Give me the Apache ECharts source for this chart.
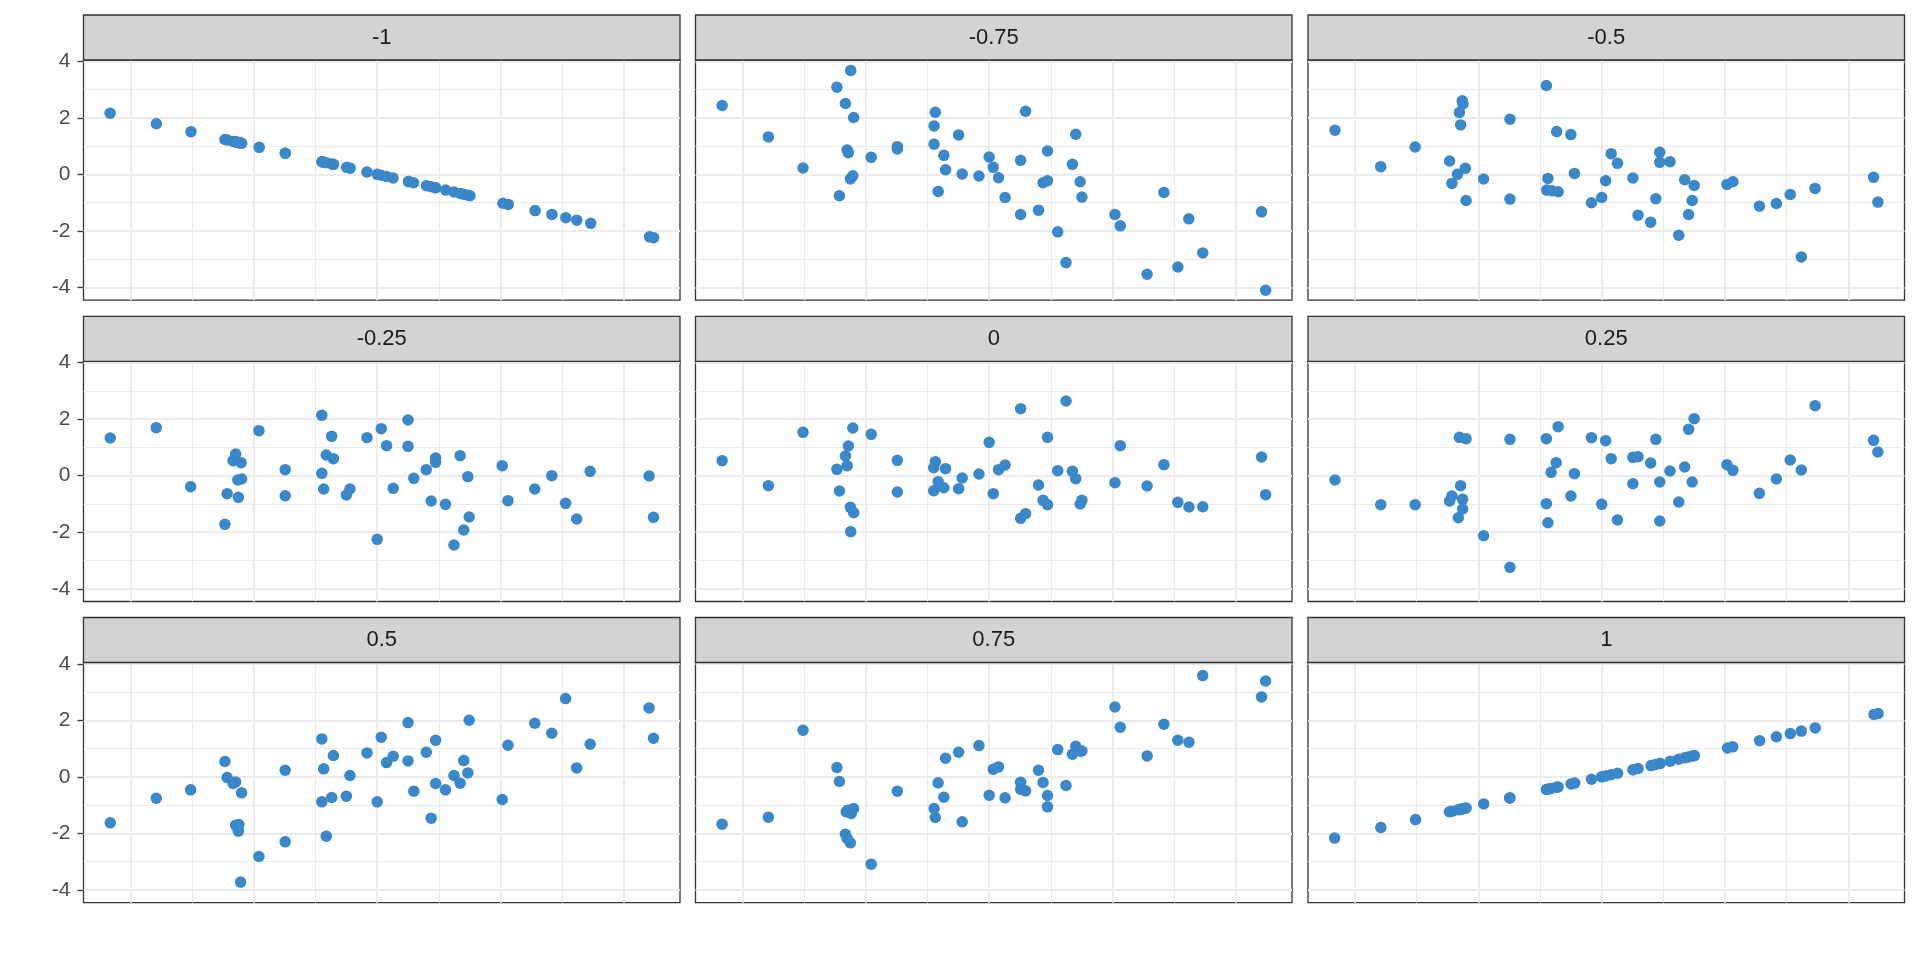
<!DOCTYPE html>
<html><head><meta charset="utf-8">
<script src="https://cdn.jsdelivr.net/npm/echarts@6/dist/echarts.min.js"></script>
<style>html,body{margin:0;padding:0;background:#fff}#c{width:1920px;height:960px}</style>
</head><body><div id="c"></div>
<script>
const panelLabels = ['-1', '-0.75', '-0.5', '-0.25', '0', '0.25', '0.5', '0.75', '1'];
const yTickValues = [-4, -2, 0, 2, 4];
const yMinorValues = [-3, -1, 1, 3];
const xTickValues = [-2, -1, 0, 1, 2];
const xMinorValues = [-1.5, -0.5, 0.5, 1.5];

const pNeg100 = [[-2.166,2.166],[-1.791,1.791],[-1.51,1.51],[-1.235,1.235],[-1.215,1.215],[-1.166,1.166],[-1.152,1.152],[-1.142,1.142],[-1.126,1.126],[-1.106,1.106],[-1.123,1.123],[-1.099,1.099],[-0.957,0.957],[-0.745,0.745],[-0.745,0.745],[-0.447,0.447],[-0.447,0.447],[-0.437,0.437],[-0.414,0.414],[-0.368,0.368],[-0.354,0.354],[-0.248,0.248],[-0.219,0.219],[-0.083,0.083],[0,0],[0.033,-0.033],[0.076,-0.076],[0.129,-0.129],[0.255,-0.255],[0.255,-0.255],[0.295,-0.295],[0.4,-0.4],[0.437,-0.437],[0.473,-0.473],[0.473,-0.473],[0.556,-0.556],[0.623,-0.623],[0.675,-0.675],[0.702,-0.702],[0.738,-0.738],[0.752,-0.752],[1.02,-1.02],[1.063,-1.063],[1.281,-1.281],[1.417,-1.417],[1.53,-1.53],[1.619,-1.619],[1.732,-1.732],[2.209,-2.209],[2.242,-2.242]];
const pNeg075 = [[-2.166,2.435],[-1.791,1.324],[-1.51,0.225],[-1.235,3.085],[-1.215,-0.757],[-1.166,2.506],[-1.152,0.863],[-1.142,0.768],[-1.126,-0.165],[-1.106,-0.047],[-1.123,3.676],[-1.099,2.01],[-0.957,0.603],[-0.745,0.98],[-0.745,0.9],[-0.447,1.064],[-0.447,1.714],[-0.437,2.199],[-0.414,-0.603],[-0.368,0.674],[-0.354,0.165],[-0.248,1.395],[-0.219,0.012],[-0.083,-0.059],[0,0.615],[0.033,0.248],[0.076,-0.118],[0.129,-0.816],[0.255,0.496],[0.255,-1.418],[0.295,2.234],[0.4,-1.265],[0.437,-0.296],[0.473,-0.225],[0.473,0.827],[0.556,-2.033],[0.623,-3.12],[0.675,0.355],[0.702,1.418],[0.738,-0.26],[0.752,-0.804],[1.02,-1.418],[1.063,-1.82],[1.281,-3.534],[1.417,-0.638],[1.53,-3.274],[1.619,-1.572],[1.732,-2.778],[2.209,-1.324],[2.242,-4.1]];
const pNeg050 = [[-2.163,1.56],[-1.792,0.272],[-1.513,0.969],[-1.234,0.473],[-1.215,-0.319],[-1.17,0.0],[-1.106,0.213],[-1.154,2.187],[-1.131,2.6],[-1.125,2.49],[-1.144,1.749],[-1.1,-0.922],[-0.958,-0.165],[-0.744,1.95],[-0.744,-0.875],[-0.449,3.144],[-0.436,-0.142],[-0.446,-0.556],[-0.404,-0.579],[-0.353,-0.615],[-0.365,1.513],[-0.25,1.407],[-0.221,0.035],[-0.083,-1.005],[0,-0.816],[0.032,-0.225],[0.077,0.733],[0.128,0.39],[0.253,-0.13],[0.295,-1.442],[0.397,-1.69],[0.439,-0.863],[0.471,0.78],[0.471,0.426],[0.554,0.449],[0.625,-2.151],[0.673,-0.189],[0.705,-1.418],[0.734,-0.922],[0.75,-0.39],[1.016,-0.355],[1.064,-0.26],[1.279,-1.123],[1.417,-1.028],[1.529,-0.709],[1.619,-2.92],[1.731,-0.496],[2.205,-0.106],[2.24,-0.981]];
const pNeg025 = [[-2.165,1.333],[-1.792,1.698],[-1.513,-0.389],[-1.235,-1.722],[-1.217,-0.637],[-1.169,0.531],[-1.148,0.767],[-1.104,0.46],[-1.126,-0.767],[-1.13,-0.153],[-1.1,-0.118],[-0.959,1.592],[-0.746,0.212],[-0.746,-0.708],[-0.449,2.134],[-0.449,0.083],[-0.434,-0.472],[-0.413,0.731],[-0.369,1.392],[-0.355,0.601],[-0.25,-0.684],[-0.221,-0.472],[-0.083,1.344],[0,-2.252],[0.033,1.663],[0.076,1.061],[0.13,-0.448],[0.25,1.969],[0.25,1.038],[0.297,-0.094],[0.398,0.212],[0.438,-0.896],[0.474,0.625],[0.474,0.472],[0.554,-1.014],[0.623,-2.453],[0.673,0.708],[0.702,-1.922],[0.735,-0.035],[0.746,-1.462],[1.014,0.354],[1.061,-0.884],[1.278,-0.472],[1.416,0.0],[1.528,-0.979],[1.618,-1.533],[1.727,0.153],[2.205,-0.012],[2.241,-1.474]];
const p000 = [[-2.166,0.531],[-1.791,-0.354],[-1.51,1.533],[-1.235,0.224],[-1.215,-0.542],[-1.166,0.696],[-1.152,0.354],[-1.142,1.05],[-1.126,-1.12],[-1.099,-1.309],[-1.123,-1.981],[-1.106,1.686],[-0.957,1.462],[-0.745,0.542],[-0.745,-0.578],[-0.437,0.495],[-0.45,0.283],[-0.414,-0.212],[-0.45,-0.531],[-0.368,-0.425],[-0.354,0.248],[-0.248,-0.46],[-0.219,-0.083],[-0.083,0.059],[0,1.179],[0.033,-0.637],[0.076,0.212],[0.129,0.377],[0.255,2.37],[0.255,-1.509],[0.295,-1.344],[0.4,-0.33],[0.437,-0.873],[0.473,-1.026],[0.473,1.356],[0.556,0.177],[0.623,2.642],[0.675,0.153],[0.702,-0.106],[0.738,-1.002],[0.752,-0.873],[1.02,-0.248],[1.063,1.061],[1.281,-0.366],[1.417,0.389],[1.53,-0.943],[1.62,-1.108],[1.732,-1.097],[2.209,0.66],[2.242,-0.672]];
const p025 = [[-2.163,-0.153],[-1.792,-1.026],[-1.513,-1.026],[-1.234,-0.896],[-1.215,-0.719],[-1.144,-0.354],[-1.154,1.356],[-1.1,1.309],[-1.128,-0.837],[-1.128,-1.179],[-1.163,-1.486],[-0.958,-2.123],[-0.744,1.285],[-0.744,-3.243],[-0.449,1.309],[-0.449,-0.99],[-0.436,-1.663],[-0.41,0.118],[-0.369,0.46],[-0.353,1.733],[-0.25,-0.719],[-0.221,0.071],[-0.083,1.344],[0,-1.014],[0.032,1.238],[0.077,0.601],[0.128,-1.568],[0.253,-0.283],[0.253,0.649],[0.295,0.672],[0.397,0.448],[0.439,1.285],[0.471,-0.224],[0.471,-1.604],[0.554,0.165],[0.625,-0.932],[0.673,0.307],[0.705,1.639],[0.734,-0.224],[0.75,2.017],[1.016,0.389],[1.064,0.189],[1.279,-0.625],[1.417,-0.118],[1.529,0.554],[1.619,0.2],[1.731,2.476],[2.205,1.25],[2.24,0.837]];
const p050 = [[-2.165,-1.625],[-1.792,-0.754],[-1.513,-0.459],[-1.235,0.542],[-1.217,-0.024],[-1.169,-0.236],[-1.148,-0.177],[-1.1,-0.565],[-1.148,-1.708],[-1.122,-1.684],[-1.126,-1.92],[-1.108,-3.722],[-0.959,-2.815],[-0.746,0.236],[-0.746,-2.297],[-0.449,1.343],[-0.449,-0.883],[-0.434,0.283],[-0.413,-2.097],[-0.369,-0.73],[-0.355,0.754],[-0.25,-0.683],[-0.221,0.047],[-0.083,0.848],[0,-0.883],[0.033,1.402],[0.076,0.506],[0.13,0.73],[0.25,1.92],[0.25,0.565],[0.297,-0.506],[0.398,0.872],[0.438,-1.46],[0.474,1.296],[0.474,-0.236],[0.554,-0.459],[0.623,0.047],[0.673,-0.224],[0.702,0.577],[0.735,0.141],[0.746,2.002],[1.014,-0.801],[1.061,1.119],[1.278,1.896],[1.416,1.543],[1.528,2.768],[1.618,0.318],[1.727,1.154],[2.205,2.438],[2.241,1.366]];
const p075 = [[-2.166,-1.673],[-1.791,-1.425],[-1.51,1.649],[-1.235,0.33],[-1.215,-0.165],[-1.166,-2.026],[-1.152,-2.179],[-1.126,-2.332],[-1.159,-1.237],[-1.119,-1.296],[-1.099,-1.119],[-1.146,-1.178],[-0.957,-3.086],[-0.745,-0.506],[-0.447,-1.119],[-0.437,-1.437],[-0.414,-0.212],[-0.368,-0.718],[-0.354,0.66],[-0.248,0.872],[-0.219,-1.59],[-0.083,1.107],[0,-0.648],[0.033,0.271],[0.076,0.353],[0.129,-0.742],[0.255,-0.188],[0.255,-0.436],[0.295,-0.495],[0.4,0.236],[0.437,-0.2],[0.473,-0.66],[0.473,-1.06],[0.556,0.966],[0.623,-0.306],[0.675,0.801],[0.702,1.084],[0.738,0.907],[0.752,0.919],[1.02,2.473],[1.063,1.755],[1.281,0.742],[1.417,1.861],[1.53,1.296],[1.62,1.225],[1.732,3.581],[2.209,2.827],[2.242,3.392]];
const p100 = [[-2.166,-2.166],[-1.791,-1.791],[-1.51,-1.51],[-1.235,-1.235],[-1.215,-1.215],[-1.166,-1.166],[-1.152,-1.152],[-1.142,-1.142],[-1.126,-1.126],[-1.106,-1.106],[-1.123,-1.123],[-1.099,-1.099],[-0.957,-0.957],[-0.745,-0.745],[-0.745,-0.745],[-0.447,-0.447],[-0.447,-0.447],[-0.437,-0.437],[-0.414,-0.414],[-0.368,-0.368],[-0.354,-0.354],[-0.248,-0.248],[-0.219,-0.219],[-0.083,-0.083],[0,0],[0.033,0.033],[0.076,0.076],[0.129,0.129],[0.255,0.255],[0.255,0.255],[0.295,0.295],[0.4,0.4],[0.437,0.437],[0.473,0.473],[0.473,0.473],[0.556,0.556],[0.623,0.623],[0.675,0.675],[0.702,0.702],[0.738,0.738],[0.752,0.752],[1.02,1.02],[1.063,1.063],[1.281,1.281],[1.417,1.417],[1.53,1.53],[1.619,1.619],[1.732,1.732],[2.209,2.209],[2.242,2.242]];

const panelData = [pNeg100, pNeg075, pNeg050, pNeg025, p000, p025, p050, p075, p100];

// layout (pixels)
const colLeft = [83.5, 695.5, 1308];
const rowTop = [60, 361.3, 662.5];
const panelW = 596.5, panelH = 240.2, stripH = 45;
const xRange = [-2.382, 2.456];
const yRange = [-4.45, 4.045];
const FONT = 'Liberation Sans, Arial, sans-serif';
const dotColor = '#3A87C9';

const grids = [], xAxes = [], yAxes = [], series = [], graphics = [];
for (let i = 0; i < 9; i++) {
  const r = Math.floor(i / 3), c = i % 3;
  grids.push({left: colLeft[c], top: rowTop[r], width: panelW, height: panelH,
    show: true, borderColor: '#333333', borderWidth: 1.3, backgroundColor: 'transparent', containLabel: false});
  xAxes.push({type: 'value', gridIndex: i, min: xRange[0], max: xRange[1], z: 1, position: 'bottom',
    axisLine: {show: false, onZero: false}, axisLabel: {show: false},
    axisTick: {show: false, customValues: xTickValues},
    splitLine: {show: true, lineStyle: {color: '#EBEBEB', width: 2}}});
  xAxes.push({type: 'value', gridIndex: i, min: xRange[0], max: xRange[1], z: 0, position: 'bottom',
    axisLine: {show: false, onZero: false}, axisLabel: {show: false},
    axisTick: {show: false, customValues: xMinorValues},
    splitLine: {show: true, lineStyle: {color: '#EBEBEB', width: 1}}});
  const showY = c === 0;
  yAxes.push({type: 'value', gridIndex: i, min: yRange[0], max: yRange[1], z: 1, position: 'left',
    axisLine: {show: false, onZero: false},
    axisLabel: {show: showY, customValues: yTickValues, color: '#4D4D4D', fontSize: 21, fontFamily: FONT, margin: 13},
    axisTick: {show: showY, customValues: yTickValues, length: 6, lineStyle: {color: '#333333', width: 1.3}},
    splitLine: {show: true, lineStyle: {color: '#EBEBEB', width: 2}}});
  yAxes.push({type: 'value', gridIndex: i, min: yRange[0], max: yRange[1], z: 0, position: 'left',
    axisLine: {show: false, onZero: false}, axisLabel: {show: false},
    axisTick: {show: false, customValues: yMinorValues},
    splitLine: {show: true, lineStyle: {color: '#EBEBEB', width: 1}}});
  series.push({type: 'scatter', xAxisIndex: 2 * i, yAxisIndex: 2 * i, data: panelData[i],
    symbol: 'circle', symbolSize: 11.5, itemStyle: {color: dotColor, opacity: 1}, z: 3,
    emphasis: {disabled: true}, silent: true});
  graphics.push({type: 'rect', shape: {x: colLeft[c], y: rowTop[r] - stripH, width: panelW, height: stripH},
    style: {fill: '#D3D3D3', stroke: '#333333', lineWidth: 1.3}, z: 10});
  graphics.push({type: 'text', x: colLeft[c] + panelW / 2, y: rowTop[r] - stripH / 2,
    style: {text: panelLabels[i], fill: '#1A1A1A', fontSize: 22, fontFamily: FONT, align: 'center', verticalAlign: 'middle'}, z: 11});
}

const chart = echarts.init(document.getElementById('c'), null, {renderer: 'canvas'});
chart.setOption({
  animation: false,
  backgroundColor: '#ffffff',
  grid: grids, xAxis: xAxes, yAxis: yAxes, series: series, graphic: graphics
});
</script>
</body></html>
